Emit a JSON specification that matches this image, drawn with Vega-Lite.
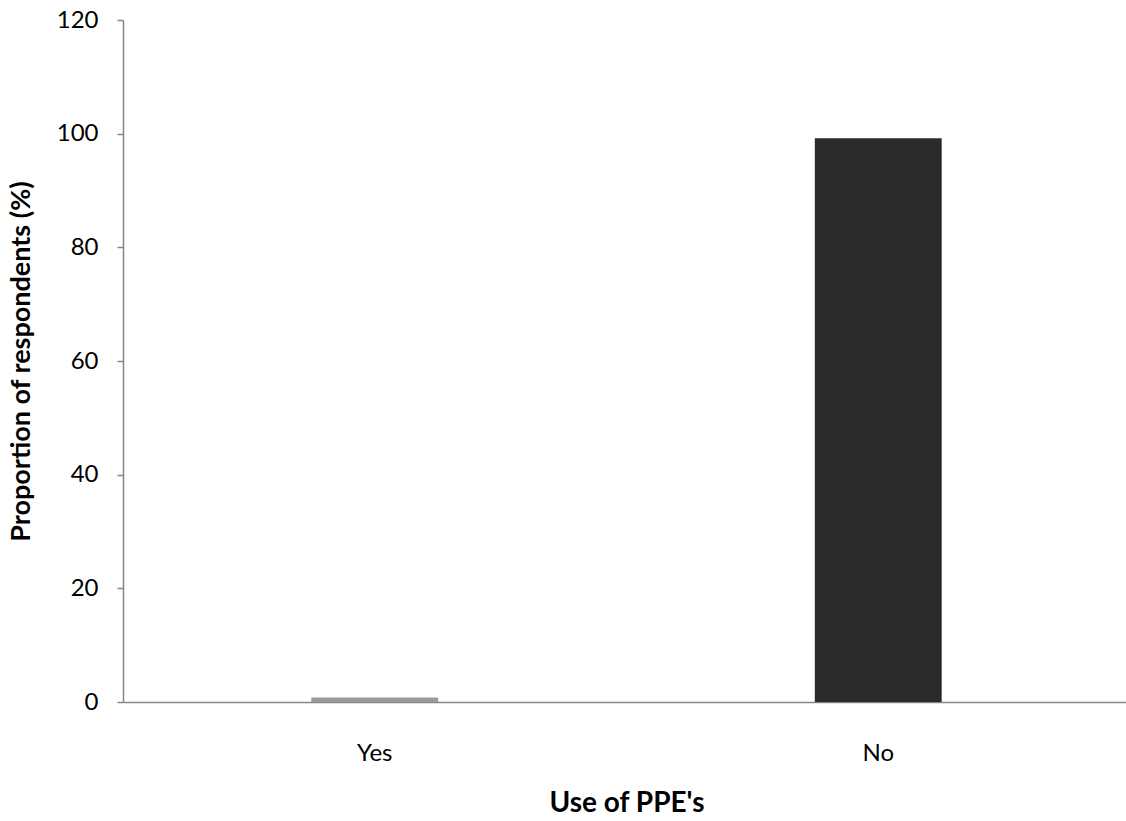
{
  "$schema": "https://vega.github.io/schema/vega-lite/v6.json",
  "width": 1007,
  "height": 682,
  "autosize": "none",
  "padding": {"left": 123, "top": 20, "right": 0, "bottom": 119},
  "background": "white",
  "data": {"values": [
    {"use": "Yes", "proportion": 0.8},
    {"use": "No", "proportion": 99.2}
  ]},
  "mark": {"type": "bar", "stroke": null},
  "encoding": {
    "x": {
      "field": "use", "type": "nominal", "sort": ["Yes", "No"],
      "scale": {"paddingInner": 0.748, "paddingOuter": 0.374},
      "axis": {
        "title": "Use of PPE's", "titleFont": "Lato", "titleFontSize": 28, "titleFontWeight": "bold",
        "titleColor": "#000", "titlePadding": 24,
        "labelFont": "Lato", "labelFontSize": 24, "labelColor": "#000", "labelAngle": 0,
        "labelPadding": 39, "ticks": false, "domainColor": "#868686", "domainWidth": 1.5, "grid": false
      }
    },
    "y": {
      "field": "proportion", "type": "quantitative",
      "scale": {"domain": [0, 120], "nice": false},
      "axis": {
        "values": [0, 20, 40, 60, 80, 100, 120],
        "title": "Proportion of respondents (%)", "titleFont": "Lato", "titleFontSize": 27, "titleFontWeight": "bold",
        "titleColor": "#000", "titlePadding": 21,
        "labelFont": "Lato", "labelFontSize": 24, "labelColor": "#000", "labelPadding": 19,
        "tickSize": 6, "tickColor": "#868686", "tickWidth": 1.5,
        "domainColor": "#868686", "domainWidth": 1.5, "grid": false
      }
    },
    "color": {
      "field": "use", "type": "nominal",
      "scale": {"domain": ["Yes", "No"], "range": ["#9a9a9a", "#2a2a2a"]},
      "legend": null
    }
  },
  "config": {"view": {"stroke": null}}
}
